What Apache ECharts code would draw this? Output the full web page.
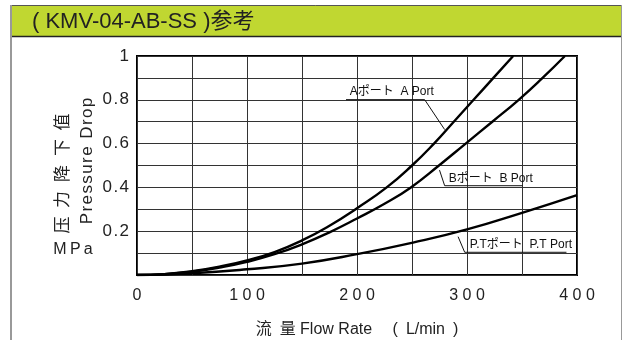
<!DOCTYPE html>
<html>
<head>
<meta charset="utf-8">
<script src="https://cdn.jsdelivr.net/npm/echarts@6/dist/echarts.min.js"></script>
<style>
html,body{margin:0;padding:0;background:#fff;}
#c{width:625px;height:340px;}
</style>
</head>
<body>
<div id="c"></div>
<script>
// ---- data ----
var titleText = '( KMV-04-AB-SS )参考';
var xTicks = [0, 100, 200, 300, 400];
var yTicks = [0.2, 0.4, 0.6, 0.8, 1];
var flowA = [0, 25, 50, 75, 100, 125, 150, 175, 200, 227, 250, 270, 288, 306, 324, 342];
var presA = [0, 0.004, 0.017, 0.038, 0.067, 0.105, 0.158, 0.225, 0.305, 0.4, 0.5, 0.6, 0.7, 0.8, 0.9, 1.0];
var flowB = [0, 25, 50, 75, 100, 125, 150, 175, 200, 225, 249, 274.5, 298.8, 323, 347, 368.7, 389];
var presB = [0, 0.004, 0.015, 0.034, 0.06, 0.095, 0.14, 0.195, 0.258, 0.325, 0.4, 0.5, 0.6, 0.7, 0.8, 0.9, 1.0];
var flowPT = [0, 50, 100, 150, 200, 250, 300, 350, 400];
var presPT = [0, 0.008, 0.026, 0.052, 0.095, 0.147, 0.208, 0.284, 0.365];
var labelA = 'Aポート  A Port';
var labelB = 'Bポート  B Port';
var labelPT = 'P.Tポート  P.T Port';
var xName = '流\u2002量 Flow Rate \u3000(\u2002L/min\u2002)';

function pairs(xs, ys){ return xs.map(function(x,i){ return [x, ys[i]]; }); }
function spaced(s, sep){ return String(s).split('').join(sep); }

var FONT = '"Liberation Sans", Arial, "Noto Sans CJK SC", sans-serif';
var chart = echarts.init(document.getElementById('c'));

var lineStyle = {color:'#000', width:2.4};
function lineSeries(d){ return {type:'line', data:d, smooth:0.5, symbol:'none', lineStyle:lineStyle, z:5}; }
var option = {
  animation:false,
  backgroundColor:'#fff',
  grid:{left:137, right:48, top:56, bottom:65, show:true, borderColor:'#000', borderWidth:2, backgroundColor:'transparent'},
  xAxis:{type:'value', min:0, max:400, interval:50,
    axisLine:{show:false}, axisTick:{show:false},
    splitLine:{show:true, lineStyle:{color:'#333', width:1}},
    axisLabel:{margin:13, color:'#222', fontSize:16, fontFamily:FONT,
      formatter:function(v){ return xTicks.indexOf(v) >= 0 ? spaced(v,' ') : ''; }}
  },
  yAxis:{type:'value', min:0, max:1, interval:0.1,
    axisLine:{show:false}, axisTick:{show:false},
    splitLine:{show:true, lineStyle:{color:'#333', width:1}},
    axisLabel:{margin:8, color:'#222', fontSize:17, fontFamily:FONT,
      formatter:function(v){
        var r = Math.round(v*10)/10;
        for (var i=0;i<yTicks.length;i++){ if (Math.abs(yTicks[i]-r)<1e-9 && Math.abs(v-r)<1e-9) return spaced(String(yTicks[i]), '\u200A'); }
        return '';
      }}
  },
  series:[ lineSeries(pairs(flowA,presA)), lineSeries(pairs(flowB,presB)), lineSeries(pairs(flowPT,presPT)) ]
};
chart.setOption(option);

// annotation placement (data coordinates)
var anns = [
  {text:labelA, tx:193.4, uy:0.803, u0:190, u1:261.5, from:[261.5,0.803], to:[279.7,0.664]},
  {text:labelB, tx:283.4, uy:0.41, u0:279.7, u1:350.6, from:[279.7,0.41], to:[275,0.479]},
  {text:labelPT, tx:302.5, uy:0.106, u0:297.9, u1:390.4, from:[297.9,0.106], to:[291.9,0.175]}
];
function px(p){ return chart.convertToPixel({gridIndex:0}, p); }

var g = [];
// frame & header band
g.push({type:'rect', shape:{x:10, y:5, width:611, height:32}, style:{fill:'#C0D731', stroke:null}, z:0});
g.push({type:'line', shape:{x1:10, y1:5.5, x2:621, y2:5.5}, style:{stroke:'#555', lineWidth:1}, z:1});
g.push({type:'line', shape:{x1:10, y1:36.5, x2:621, y2:36.5}, style:{stroke:'#222', lineWidth:1.5}, z:1});
g.push({type:'line', shape:{x1:11, y1:5, x2:11, y2:340}, style:{stroke:'#999', lineWidth:2}, z:1});
g.push({type:'line', shape:{x1:621.5, y1:5, x2:621.5, y2:340}, style:{stroke:'#999', lineWidth:1}, z:1});
g.push({type:'text', x:32, y:22, style:{text:titleText, fill:'#222', font:'22px '+FONT, textVerticalAlign:'middle'}, z:2});

// y axis titles
var cjk = ['压','力','降','下','值'];
var cjkY = [225, 199.5, 173.5, 147.5, 122];
cjk.forEach(function(ch,i){
  g.push({type:'text', x:62, y:cjkY[i], rotation:Math.PI/2, style:{text:ch, fill:'#222', font:'17px "Noto Sans CJK SC", sans-serif', textAlign:'center', textVerticalAlign:'middle'}});
});
g.push({type:'text', x:87, y:161, rotation:Math.PI/2, style:{text:spaced('Pressure Drop','\u200A'), fill:'#222', font:'17px '+FONT, textAlign:'center', textVerticalAlign:'middle'}});
g.push({type:'text', x:73, y:250, style:{text:spaced('MPa','\u2009'), fill:'#222', font:'16px '+FONT, textAlign:'center', textVerticalAlign:'middle'}});
// x axis title
g.push({type:'text', x:357, y:330, style:{text:xName, fill:'#222', font:'16px '+FONT, textAlign:'center', textVerticalAlign:'middle'}});

anns.forEach(function(a){
  var t = px([a.tx, a.uy]);
  var u0 = px([a.u0, a.uy]), u1 = px([a.u1, a.uy]);
  var f = px(a.from), to = px(a.to);
  g.push({type:'text', x:t[0], y:t[1]-1, z:10, style:{text:a.text, fill:'#111', font:'12px "Liberation Sans Narrow", "Liberation Sans", "Noto Sans CJK JP", sans-serif', textVerticalAlign:'bottom'}});
  g.push({type:'line', z:10, shape:{x1:u0[0], y1:u0[1]+0.5, x2:u1[0], y2:u1[1]+0.5}, style:{stroke:'#111', lineWidth:1}});
  g.push({type:'line', z:10, shape:{x1:f[0], y1:f[1]+0.5, x2:to[0], y2:to[1]}, style:{stroke:'#111', lineWidth:1}});
});
chart.setOption({graphic:{elements:g}});
</script>
</body>
</html>
